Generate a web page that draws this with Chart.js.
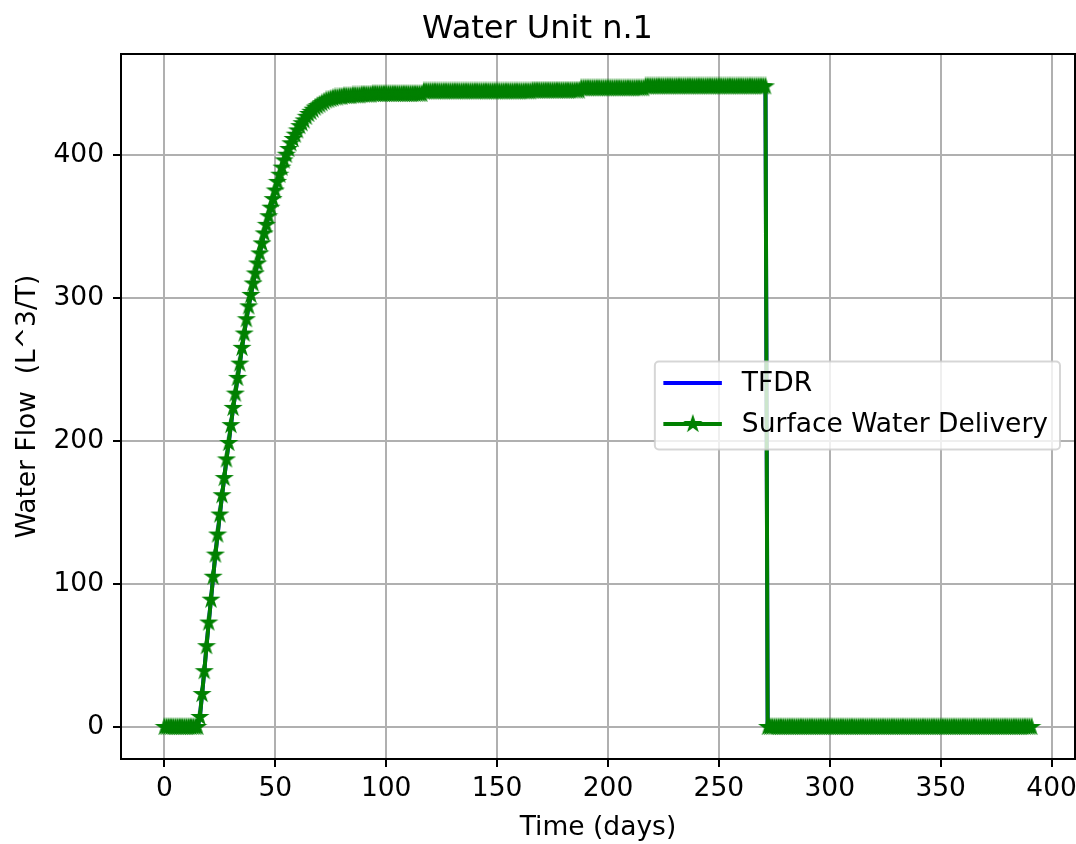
<!DOCTYPE html>
<html>
<head>
<meta charset="utf-8">
<script src="https://cdn.jsdelivr.net/npm/chart.js@4.4.1/dist/chart.umd.min.js"></script>
<style>
  body { margin: 0; background: #fff; }
</style>
</head>
<body>
<canvas id="mycanvas" width="1076" height="844"></canvas>
<script>
// daily values, day 0 .. 391
var surfaceDelivery = [
	0, 0, 0, 0, 0, 0, 0, 0, 0, 0,
	0, 0, 0, 0, 0, 0, 7, 23, 39, 56.5,
	73, 89, 105, 120.5, 134.5, 148.5, 162, 174, 187, 198.5,
	211, 223, 233, 244, 254, 265, 275, 285, 294, 302,
	310, 317, 324, 331, 338, 345, 351, 357, 363, 369,
	375, 381, 386, 391, 396, 400, 404, 408, 411, 414,
	417, 420, 422, 424, 426.5, 428.5, 430, 431.5, 433, 434,
	435, 436, 437, 438, 438.5, 439, 439.5, 440, 440, 440.5,
	440.5, 441, 441, 441, 441, 441.5, 441.5, 441.5, 441.5, 442,
	442, 442, 442, 442, 442.5, 442.5, 442.5, 442.5, 442.5, 442.5,
	442.5, 442.5, 442.5, 442.5, 442.5, 442.5, 442.5, 442.5, 442.5, 442.5,
	442.5, 442.5, 442.5, 442.5, 442.5, 442.5, 442.5, 444.3, 444.3, 444.3,
	444.3, 444.3, 444.3, 444.3, 444.3, 444.3, 444.3, 444.3, 444.3, 444.3,
	444.3, 444.3, 444.3, 444.3, 444.3, 444.3, 444.3, 444.3, 444.3, 444.3,
	444.3, 444.3, 444.3, 444.3, 444.3, 444.3, 444.3, 444.3, 444.3, 444.3,
	444.3, 444.3, 444.3, 444.3, 444.3, 444.3, 444.3, 444.3, 444.3, 444.3,
	444.3, 444.3, 444.3, 444.3, 444.3, 444.3, 444.8, 444.8, 444.8, 444.8,
	444.8, 444.8, 444.8, 444.8, 444.8, 444.8, 444.8, 444.8, 444.8, 444.8,
	444.8, 444.8, 444.8, 444.8, 444.8, 444.8, 444.8, 444.8, 446.5, 446.5,
	446.5, 446.5, 446.5, 446.5, 446.5, 446.5, 446.5, 446.5, 446.5, 446.5,
	446.5, 446.5, 446.5, 446.5, 446.5, 446.5, 446.5, 446.5, 446.5, 446.5,
	446.5, 446.5, 446.5, 446.5, 446.5, 446.5, 446.5, 447.8, 447.8, 447.8,
	447.8, 447.8, 447.8, 447.8, 447.8, 447.8, 447.8, 447.8, 447.8, 447.8,
	447.8, 447.8, 447.8, 447.8, 447.8, 447.8, 447.8, 447.8, 447.8, 447.8,
	447.8, 447.8, 447.8, 447.8, 447.8, 447.8, 447.8, 447.8, 447.8, 447.8,
	447.8, 447.8, 447.8, 447.8, 447.8, 447.8, 447.8, 447.8, 447.8, 447.8,
	447.8, 447.8, 447.8, 447.8, 447.8, 447.8, 447.8, 447.8, 447.8, 447.8,
	447.8, 447.8, 0, 0, 0, 0, 0, 0, 0, 0,
	0, 0, 0, 0, 0, 0, 0, 0, 0, 0,
	0, 0, 0, 0, 0, 0, 0, 0, 0, 0,
	0, 0, 0, 0, 0, 0, 0, 0, 0, 0,
	0, 0, 0, 0, 0, 0, 0, 0, 0, 0,
	0, 0, 0, 0, 0, 0, 0, 0, 0, 0,
	0, 0, 0, 0, 0, 0, 0, 0, 0, 0,
	0, 0, 0, 0, 0, 0, 0, 0, 0, 0,
	0, 0, 0, 0, 0, 0, 0, 0, 0, 0,
	0, 0, 0, 0, 0, 0, 0, 0, 0, 0,
	0, 0, 0, 0, 0, 0, 0, 0, 0, 0,
	0, 0, 0, 0, 0, 0, 0, 0, 0, 0,
	0, 0
];
// TFDR sits exactly under the delivery curve in the picture
var tfdr = surfaceDelivery.slice();

var xTicks = [0, 50, 100, 150, 200, 250, 300, 350, 400];
var yTicks = [0, 100, 200, 300, 400];

var seriesNames = ['TFDR', 'Surface Water Delivery'];
var seriesColors = ['#0000ff', '#008000'];

var FONT = "'DejaVu Sans', 'Liberation Sans', sans-serif";
var LABEL_SIZE = 26.5;

// filled matplotlib-like star marker
function makeStar(r, color) {
	var size = Math.ceil(r * 2 + 4);
	var c = document.createElement('canvas');
	c.width = size;
	c.height = size;
	var g = c.getContext('2d');
	var cx = size / 2, cy = size / 2;
	g.beginPath();
	for (var i = 0; i < 10; i++) {
		var rad = i % 2 === 0 ? r : r * 0.382;
		var a = -Math.PI / 2 + i * Math.PI / 5;
		g.lineTo(cx + rad * Math.cos(a), cy + rad * Math.sin(a));
	}
	g.closePath();
	g.fillStyle = color;
	g.fill();
	g.lineWidth = 1.4;
	g.strokeStyle = color;
	g.stroke();
	return c;
}
var star = makeStar(7.8, seriesColors[1]);

function toPoints(arr) {
	var pts = [];
	for (var i in arr) {
		pts.push({x: Number(i), y: arr[i]});
	}
	return pts;
}

// top/right spines
var frame = {
	id: 'frame',
	afterDraw: function(chart) {
		var a = chart.chartArea, ctx = chart.ctx;
		ctx.save();
		ctx.strokeStyle = '#000';
		ctx.lineWidth = 2;
		ctx.strokeRect(a.left, a.top, a.right - a.left, a.bottom - a.top);
		ctx.restore();
	}
};

// matplotlib style legend, "center right" inside the axes
var boxLegend = {
	id: 'boxLegend',
	afterDraw: function(chart) {
		var a = chart.chartArea, ctx = chart.ctx;
		ctx.save();
		ctx.font = LABEL_SIZE + 'px ' + FONT;
		var textW = 0;
		seriesNames.forEach(function(n) { textW = Math.max(textW, ctx.measureText(n).width); });
		var w = 87 + textW + 12, h = 88;
		var x = a.right - 15 - w;
		var y = (a.top + a.bottom) / 2 - h / 2 - 1;
		ctx.beginPath();
		ctx.roundRect(x, y, w, h, 4);
		ctx.fillStyle = 'rgba(255,255,255,0.8)';
		ctx.fill();
		ctx.strokeStyle = 'rgba(204,204,204,0.8)';
		ctx.lineWidth = 2;
		ctx.stroke();

		var rows = [y + 21.5, y + 62.5];
		for (var i = 0; i < 2; i++) {
			ctx.beginPath();
			ctx.moveTo(x + 8.5, rows[i]);
			ctx.lineTo(x + 67, rows[i]);
			ctx.strokeStyle = seriesColors[i];
			ctx.lineWidth = 4;
			ctx.stroke();
			if (i === 1) {
				ctx.drawImage(star, x + 38 - star.width / 2, rows[i] - star.height / 2);
			}
			ctx.fillStyle = '#000';
			ctx.textBaseline = 'middle';
			ctx.textAlign = 'left';
			ctx.fillText(seriesNames[i], x + 87, rows[i] + 1);
		}
		ctx.restore();
	}
};

var chartdata = {
	datasets: [
		{
			label: seriesNames[0],
			data: toPoints(tfdr),
			borderColor: seriesColors[0],
			backgroundColor: seriesColors[0],
			borderWidth: 4,
			pointRadius: 0,
			tension: 0,
			order: 1
		},
		{
			label: seriesNames[1],
			data: toPoints(surfaceDelivery),
			borderColor: seriesColors[1],
			backgroundColor: seriesColors[1],
			borderWidth: 4,
			pointStyle: star,
			pointRadius: 7,
			tension: 0,
			order: 0
		}
	]
};

var ctx = document.getElementById('mycanvas');

var lineGraph = new Chart(ctx, {
	type: 'line',
	data: chartdata,
	plugins: [frame, boxLegend],
	options: {
		responsive: false,
		devicePixelRatio: 1,
		animation: false,
		layout: { autoPadding: false, padding: { left: 0, right: 1, top: 0, bottom: 0 } },
		plugins: {
			legend: { display: false },
			tooltip: { enabled: false },
			title: {
				display: true,
				text: 'Water Unit n.1',
				color: '#000',
				font: { family: FONT, size: 32, weight: 'normal', lineHeight: 1.2 },
				padding: { top: 10, bottom: 5.6 }
			}
		},
		scales: {
			x: {
				type: 'linear',
				min: -19.55,
				max: 410.55,
				afterBuildTicks: function(scale) {
					scale.ticks = xTicks.map(function(v) { return {value: v}; });
				},
				afterFit: function(scale) {
					scale.height = 85;
					scale.paddingLeft = 0;
					scale.paddingRight = 0;
				},
				ticks: {
					color: '#000',
					font: { family: FONT, size: LABEL_SIZE },
					padding: 6,
					maxRotation: 0,
					autoSkip: false
				},
				grid: {
					color: '#b0b0b0',
					lineWidth: 2,
					tickColor: '#000',
					tickWidth: 2,
					tickLength: 8
				},
				border: { display: true, color: '#000', width: 2 },
				title: {
					display: true,
					text: 'Time (days)',
					color: '#000',
					font: { family: FONT, size: LABEL_SIZE, lineHeight: 1.2 },
					padding: { top: 0, bottom: 0 }
				}
			},
			y: {
				type: 'linear',
				min: -22.4,
				max: 470.4,
				afterBuildTicks: function(scale) {
					scale.ticks = yTicks.map(function(v) { return {value: v}; });
				},
				afterFit: function(scale) {
					scale.width = 121;
					scale.paddingTop = 0;
					scale.paddingBottom = 0;
				},
				ticks: {
					color: '#000',
					font: { family: FONT, size: LABEL_SIZE },
					padding: 9,
					autoSkip: false
				},
				grid: {
					color: '#b0b0b0',
					lineWidth: 2,
					tickColor: '#000',
					tickWidth: 2,
					tickLength: 8
				},
				border: { display: true, color: '#000', width: 2 },
				title: {
					display: true,
					text: 'Water Flow  (L^3/T)',
					color: '#000',
					font: { family: FONT, size: LABEL_SIZE, lineHeight: 1.2 },
					padding: { top: 12, bottom: 0 }
				}
			}
		}
	}
});
</script>
</body>
</html>
